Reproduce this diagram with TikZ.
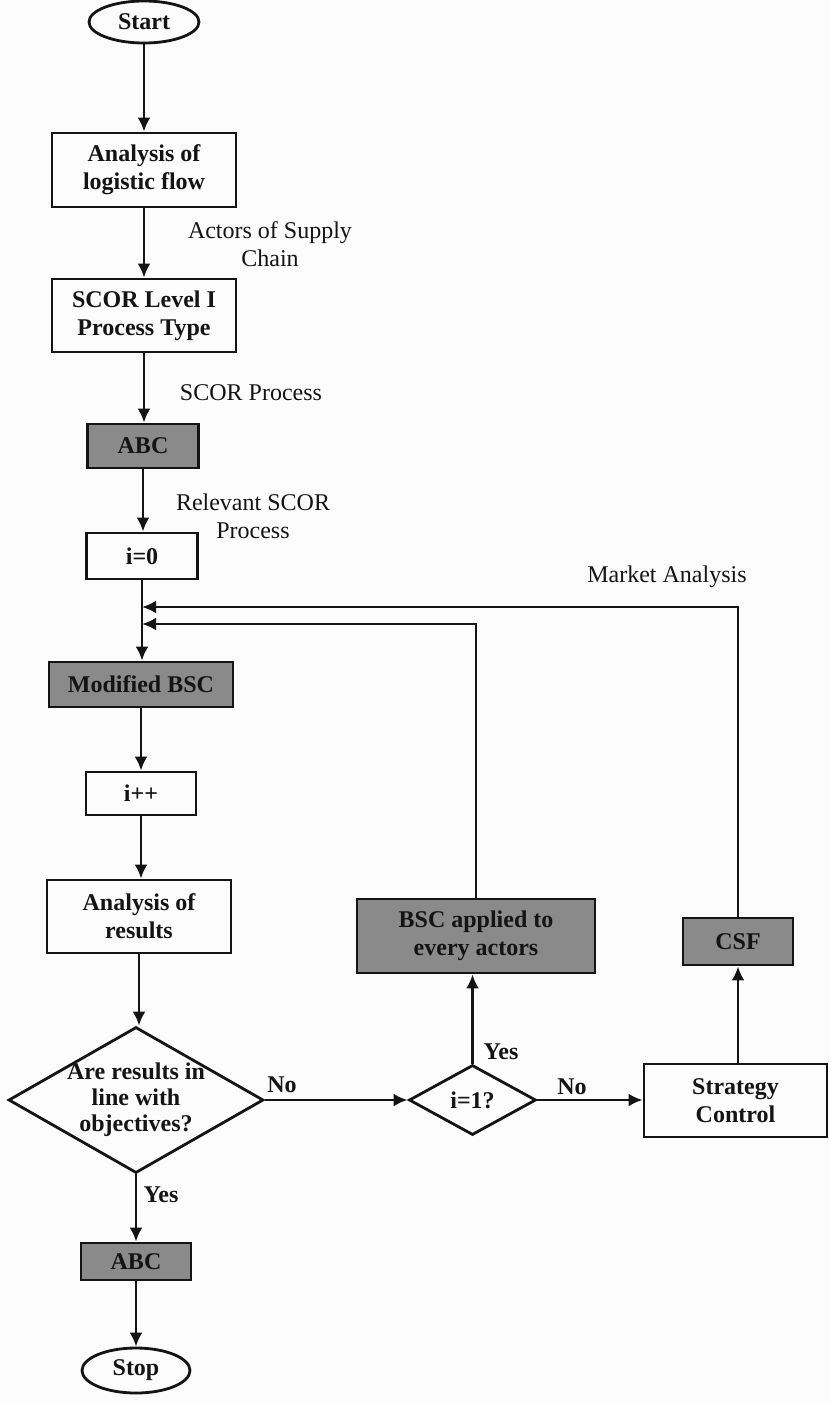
\documentclass[tikz,border=0pt]{standalone}
\usepackage{fontspec}
\setmainfont{Liberation Serif}
\usetikzlibrary{shapes.geometric,arrows.meta}
\definecolor{ink}{HTML}{141414}
\definecolor{boxgray}{HTML}{8A8A8A}
\definecolor{paper}{HTML}{FCFCFC}
\begin{document}
\begin{tikzpicture}[x=1pt,y=-1pt,
  every node/.style={font=\fontsize{24}{28}\selectfont},
  proc/.style={draw=ink, line width=2.8pt, rectangle, inner sep=0pt, align=center, font=\fontsize{24}{28}\selectfont\bfseries, text=ink},
  grayproc/.style={proc, fill=boxgray},
  term/.style={draw=ink, line width=2.8pt, ellipse, inner sep=0pt, font=\fontsize{24}{28}\selectfont\bfseries, text=ink},
  dia/.style={draw=ink, line width=2.8pt, diamond, inner sep=0pt},
  lbl/.style={align=center, text=ink, font=\fontsize{24}{28}\selectfont},
  blbl/.style={align=center, text=ink, font=\fontsize{24}{28}\selectfont\bfseries},
  arr/.style={draw=ink, line width=2.8pt, -{Latex[length=14pt,width=13pt]}}]
\fill[paper] (0,0) rectangle (829,1403);
\useasboundingbox (0,0) rectangle (829,1403);

% main column
\node[term, minimum width=110, minimum height=42] (start) at (144,22) {Start};
\node[proc, minimum width=184, minimum height=74] (alf) at (144,170) {Analysis of\\logistic flow};
\node[proc, minimum width=184, minimum height=73] (scor) at (144,315.5) {SCOR Level I\\Process Type};
\node[grayproc, minimum width=111, minimum height=44] (abc1) at (143,446) {ABC};
\node[proc, minimum width=111, minimum height=46] (i0) at (142,556) {i=0};
\node[grayproc, minimum width=184, minimum height=45] (mbsc) at (141,684.5) {Modified BSC};
\node[proc, minimum width=110, minimum height=43] (ipp) at (141,793.5) {i++};
\node[proc, minimum width=184, minimum height=73] (aor) at (139,916.5) {Analysis of\\results};
\node[dia, minimum width=255, minimum height=146] (d1) at (136,1100) {};
\node[blbl, font=\fontsize{24}{26}\selectfont\bfseries] (d1t) at (d1) {Are results in\\line with\\objectives?};
\node[grayproc, minimum width=110, minimum height=37] (abc2) at (136,1261.5) {ABC};
\node[term, minimum width=108, minimum height=45] (stop) at (136,1370.5) {Stop};

% right part
\node[dia, minimum width=127, minimum height=70] (d2) at (472.5,1100) {};
\node[blbl] (d2t) at (d2) {i=1?};
\node[proc, minimum width=183, minimum height=73] (sc) at (735.5,1100.5) {Strategy\\Control};
\node[grayproc, minimum width=238, minimum height=74] (bsc) at (476,936) {BSC applied to\\every actors};
\node[grayproc, minimum width=110, minimum height=47] (csf) at (738,941.5) {CSF};

% join points on the main column
\coordinate (j1) at (142,607);
\coordinate (j2) at (142,624);

% labels
\node[lbl] (l1) at (270,244) {Actors of Supply\\Chain};
\node[lbl] (l2) at (251,393) {SCOR Process};
\node[lbl] (l3) at (253,516) {Relevant SCOR\\Process};
\node[lbl] (l4) at (667,577) {Market Analysis};
\node[blbl] (l5) at (282,1085) {No};
\node[blbl] (l6) at (161,1195) {Yes};
\node[blbl] (l7) at (501,1052) {Yes};
\node[blbl] (l8) at (572,1087) {No};

% connectors
\draw[arr] (start.south) -- (start.south |- alf.north);
\draw[arr] (alf.south) -- (alf.south |- scor.north);
\draw[arr] (scor.south) -- (scor.south |- abc1.north);
\draw[arr] (abc1.south) -- (abc1.south |- i0.north);
\draw[arr] (i0.south) -- (i0.south |- mbsc.north);
\draw[arr] (mbsc.south) -- (mbsc.south |- ipp.north);
\draw[arr] (ipp.south) -- (ipp.south |- aor.north);
\draw[arr] (aor.south) -- (aor.south |- d1.north);
\draw[arr] (d1.south) -- (d1.south |- abc2.north);
\draw[arr] (abc2.south) -- (abc2.south |- stop.north);
\draw[arr] (d1.east) -- (d2.west);
\draw[arr] (d2.east) -- (d2.east -| sc.west);
\draw[arr] (d2.north) -- (d2.north |- bsc.south);
\draw[arr] (sc.north -| csf.south) -- (csf.south);
\draw[arr] (csf.north) |- (j1);
\draw[arr] (bsc.north) |- (j2);
\end{tikzpicture}
\end{document}
